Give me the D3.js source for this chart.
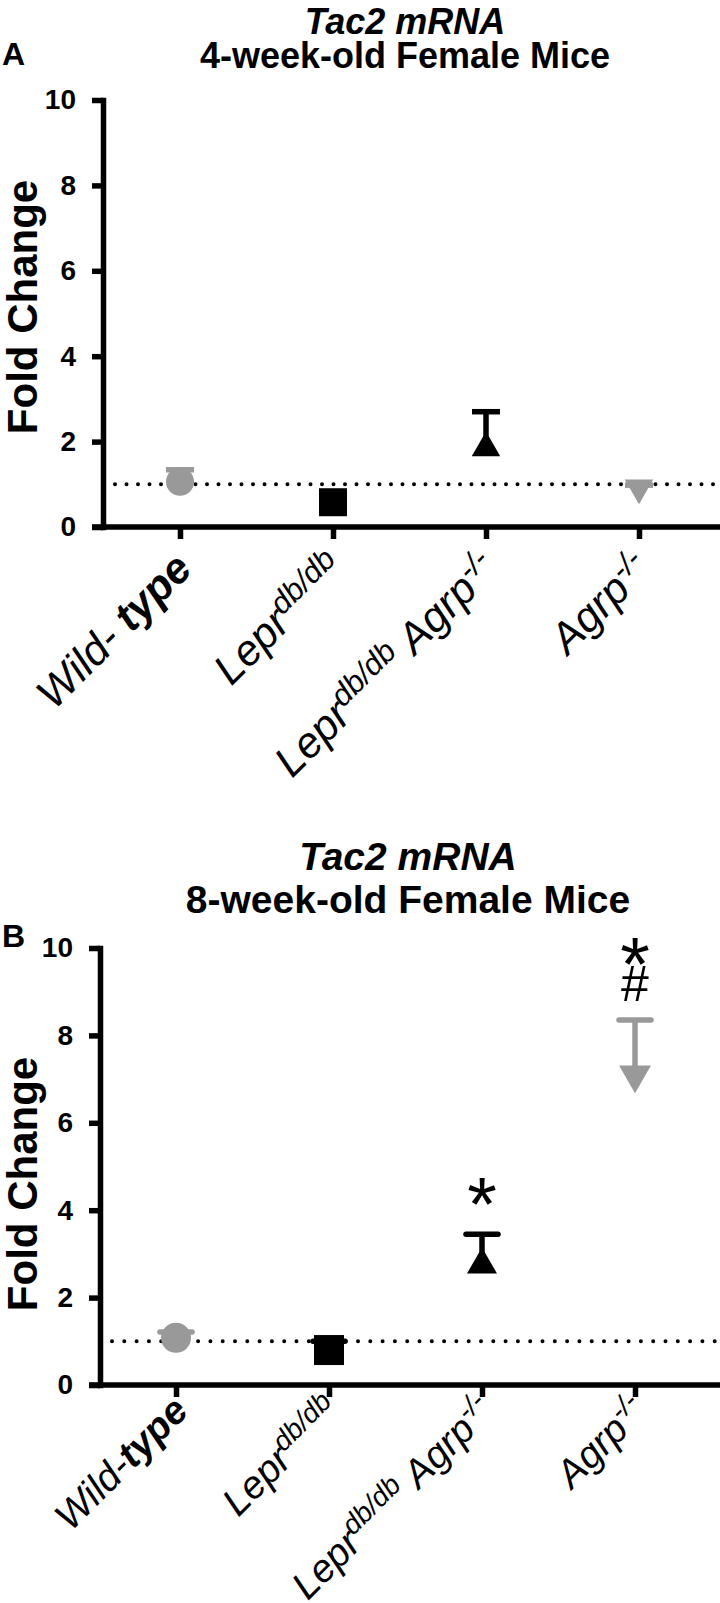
<!DOCTYPE html>
<html>
<head>
<meta charset="utf-8">
<script src="https://cdn.jsdelivr.net/npm/d3@7"></script>
<style>
  body { margin: 0; background: #fff; }
  svg { display: block; font-family: "Liberation Sans", Arial, sans-serif; }
</style>
</head>
<body>
<svg id="fig" width="720" height="1603"></svg>
<script>
// groups on the x axis, in drawing order
const groups = ['wt', 'lepr', 'leprAgrp', 'agrp'];
const shapes = ['circle', 'square', 'triangle', 'down'];
const colors = ['#999999', '#000000', '#000000', '#999999'];

// panel A, 4-week-old females (mean, upper SEM)
const meanA = [1.06, 0.58, 1.85, 0.92];
const semA = [0.28, 0.08, 0.85, 0.06];

// panel B, 8-week-old females
const meanB = [1.08, 0.80, 2.75, 7.1];
const semB = [0.13, 0.20, 0.70, 1.25];

const yTicks = [0, 2, 4, 6, 8, 10];
const refLine = 1;

// significance marks in panel B
const markGroup = ['leprAgrp', 'agrp', 'agrp'];
const markValue = [4.55, 10.05, 9.2];
const markText = ['*', '*', '#'];

// x labels: [text, kind]  n = italic, b = bold italic, s = superscript
const labelsA = [
  [['Wild- ', 'n'], ['type', 'b']],
  [['Lepr', 'n'], ['db/db', 's']],
  [['Lepr', 'n'], ['db/db', 's'], [' Agrp', 'n'], ['-/-', 's']],
  [['Agrp', 'n'], ['-/-', 's']]
];
const labelsB = [
  [['Wild-', 'n'], ['type', 'b']],
  [['Lepr', 'n'], ['db/db', 's']],
  [['Lepr', 'n'], ['db/db', 's'], [' Agrp', 'n'], ['-/-', 's']],
  [['Agrp', 'n'], ['-/-', 's']]
];

const svg = d3.select('#fig');

const symbolType = {
  circle: d3.symbolCircle,
  square: d3.symbolSquare,
  triangle: d3.symbolTriangle,
  down: d3.symbolTriangle
};

function panel(o) {
  const g = svg.append('g');
  const x = d3.scalePoint().domain(groups).range(o.xr);
  const y = d3.scaleLinear().domain([0, 10]).range(o.yr);
  const y0 = y(0);

  // titles
  g.append('text')
    .attr('x', o.tx).attr('y', o.t1)
    .attr('text-anchor', 'middle')
    .attr('font-size', o.tf).attr('font-weight', 'bold').attr('font-style', 'italic')
    .text('Tac2 mRNA');
  g.append('text')
    .attr('x', o.tx).attr('y', o.t2)
    .attr('text-anchor', 'middle')
    .attr('font-size', o.tf).attr('font-weight', 'bold')
    .text(o.sub);
  g.append('text')
    .attr('x', 2).attr('y', o.ly)
    .attr('font-size', 32).attr('font-weight', 'bold')
    .text(o.letter);

  // y axis
  const yAxis = d3.axisLeft(y).tickValues(yTicks).tickSize(11).tickSizeOuter(0).tickPadding(16);
  const ya = g.append('g').attr('transform', `translate(${o.ax},0)`).call(yAxis);
  ya.select('.domain').attr('stroke-width', 5.5).attr('stroke-linecap', 'square');
  ya.selectAll('.tick line').attr('stroke-width', 5.5);
  ya.selectAll('.tick text')
    .attr('font-size', 28).attr('font-weight', 'bold').attr('font-family', null)
    .attr('fill', '#000');

  g.append('text')
    .attr('transform', `translate(${o.fx},${o.fy}) rotate(-90)`)
    .attr('text-anchor', 'middle')
    .attr('font-size', 42).attr('font-weight', 'bold')
    .text('Fold Change');

  // x axis
  g.append('line')
    .attr('x1', o.ax - 11).attr('x2', 720)
    .attr('y1', y0).attr('y2', y0)
    .attr('stroke', '#000').attr('stroke-width', 5.5);
  const xAxis = d3.axisBottom(x).tickSize(12).tickSizeOuter(0).tickFormat('');
  const xa = g.append('g').attr('transform', `translate(0,${y0})`).call(xAxis);
  xa.select('.domain').remove();
  xa.selectAll('.tick line').attr('stroke-width', 5.5);

  // category labels
  g.append('g').selectAll('text')
    .data(groups)
    .join('text')
      .attr('transform', d => `translate(${x(d) + o.lx},${y0 + o.lyOff}) rotate(-45)`)
      .attr('text-anchor', 'end')
      .attr('font-size', o.lf).attr('font-style', 'italic')
      .style('white-space', 'pre')
      .each(function(d, i) {
        const t = d3.select(this);
        let raised = false;
        o.labels[i].forEach(([s, k]) => {
          const ts = t.append('tspan').text(s);
          if (k === 'b') ts.attr('font-weight', 'bold');
          if (k === 's') {
            ts.attr('font-size', Math.round(o.lf * 0.72)).attr('dy', -14);
            raised = true;
          } else if (raised) {
            ts.attr('dy', 14);
            raised = false;
          }
        });
      });

  // dotted reference line at 1
  g.append('line')
    .attr('x1', o.ax + 12).attr('x2', 720)
    .attr('y1', y(refLine)).attr('y2', y(refLine))
    .attr('stroke', '#000').attr('stroke-width', 4)
    .attr('stroke-dasharray', `0 ${o.dot}`).attr('stroke-linecap', 'round');

  // upper error bars
  const eb = g.append('g').selectAll('g')
    .data(groups)
    .join('g')
      .attr('stroke', (d, i) => colors[i]);
  eb.append('line')
    .attr('x1', d => x(d)).attr('x2', d => x(d))
    .attr('y1', (d, i) => y(o.mean[i])).attr('y2', (d, i) => y(o.mean[i] + o.sem[i]))
    .attr('stroke-width', 5.5);
  eb.append('line')
    .attr('x1', d => x(d) - o.cap / 2).attr('x2', d => x(d) + o.cap / 2)
    .attr('y1', (d, i) => y(o.mean[i] + o.sem[i])).attr('y2', (d, i) => y(o.mean[i] + o.sem[i]))
    .attr('stroke-width', 5.5).attr('stroke-linecap', o.capEnd);

  // markers
  g.append('g').selectAll('path')
    .data(groups)
    .join('path')
      .attr('transform', (d, i) => `translate(${x(d)},${y(o.mean[i])})` + (shapes[i] === 'down' ? ' rotate(180)' : ''))
      .attr('d', (d, i) => d3.symbol().type(symbolType[shapes[i]]).size(o.sizes[i])())
      .attr('fill', (d, i) => colors[i]);

  // significance marks
  if (o.marks) {
    g.append('g').selectAll('text')
      .data(markText)
      .join('text')
        .attr('x', (d, i) => x(markGroup[i]))
        .attr('y', (d, i) => y(markValue[i]))
        .attr('text-anchor', 'middle')
        .attr('dy', d => d === '*' ? '0.58em' : '0.36em')
        .attr('font-size', d => d === '*' ? 76 : 50)
        .text(d => d);
  }
}

panel({
  sub: '4-week-old Female Mice', letter: 'A', tf: 36,
  tx: 405, t1: 34, t2: 68, ly: 65,
  ax: 103, xr: [180, 639], yr: [527, 100],
  fx: 37, fy: 307,
  lf: 43, lx: 14, lyOff: 44, labels: labelsA,
  mean: meanA, sem: semA,
  sizes: [616, 784, 352, 352], cap: 28, capEnd: 'butt', dot: 11.5
});

panel({
  sub: '8-week-old Female Mice', letter: 'B', tf: 39,
  tx: 408, t1: 870, t2: 913, ly: 947,
  ax: 100, xr: [176, 635], yr: [1385, 948],
  fx: 37, fy: 1184,
  lf: 39, lx: 14, lyOff: 28, labels: labelsB,
  mean: meanB, sem: semB, marks: true,
  sizes: [707, 900, 390, 440], cap: 32, capEnd: 'round', dot: 12.3
});
</script>
</body>
</html>
